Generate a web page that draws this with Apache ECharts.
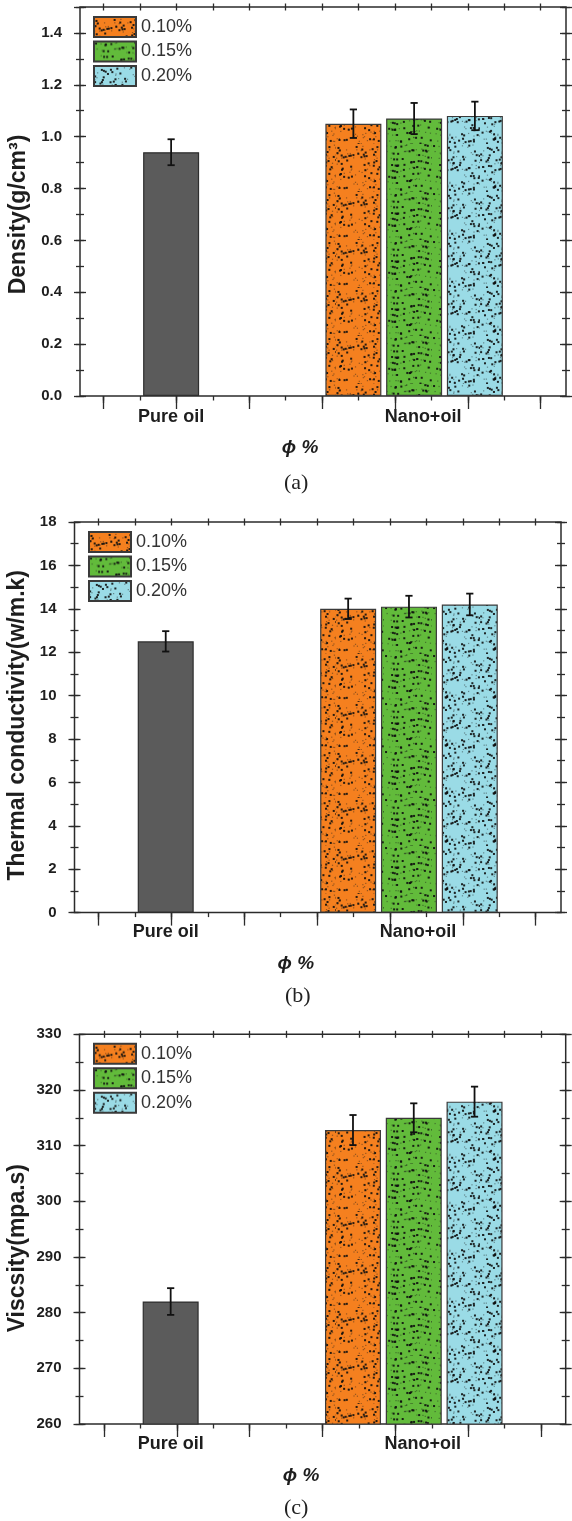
<!DOCTYPE html>
<html>
<head>
<meta charset="utf-8">
<script src="https://cdn.jsdelivr.net/npm/echarts@6/dist/echarts.min.js"></script>
<style>
  body { margin: 0; background: #fff; width: 572px; height: 1521px; position: relative; overflow: hidden; }
  .panel { position: absolute; left: 0; width: 572px; }
</style>
</head>
<body>
<div id="pa" class="panel" style="top:0;height:510px"></div>
<div id="pb" class="panel" style="top:510px;height:510px"></div>
<div id="pc" class="panel" style="top:1020px;height:501px"></div>
<script>
// bar slots along the x axis (Origin places each bar in its own slot)
const slots = ["", "Pure oil", "", "", "", "Nano+oil", "", ""];
const PURE_SLOT = 1;
const NANO_SLOTS = [4, 5, 6];
const concLabels = ["0.10%", "0.15%", "0.20%"];

// (a) density
const densityPure = 0.94;
const densityPureErr = 0.05;
const densityNano = [1.05, 1.07, 1.08];
const densityNanoErr = [0.055, 0.06, 0.055];
const densityAxis = [0, 1.5, 0.2, 0.1]; // min, max, major, minor

// (b) thermal conductivity
const thermalPure = 12.5;
const thermalPureErr = 0.47;
const thermalNano = [14.0, 14.1, 14.2];
const thermalNanoErr = [0.47, 0.5, 0.5];
const thermalAxis = [0, 18, 2, 1];

// (c) viscosity
const viscPure = 282;
const viscPureErr = 2.4;
const viscNano = [312.8, 315.0, 317.9];
const viscNanoErr = [2.7, 2.6, 2.7];
const viscAxis = [260, 330, 10, 5];

const X_TICK_STEPS = 12; // minor tick intervals on the top/bottom axes

const AXIS = "#2b2b2b";
const TEXT = "#1e1e1e";
const FONT = "Liberation Sans, Arial, sans-serif";
const NANO_COLORS = ["#f5801f", "#62bb3b", "#9adbe6"];

// speckled fill like Origin's pattern (deterministic, styling only)
function texture(bg, seed, rows) {
    const c = document.createElement("canvas");
    c.width = 48;
    c.height = 48;
    const ctx = c.getContext("2d");
    ctx.fillStyle = bg;
    ctx.fillRect(0, 0, 48, 48);
    let s = seed;
    const rnd = () => {
        s = (s * 1103515245 + 12345) % 2147483648;
        return s / 2147483648;
    };
    for (let i = 0; i < 120; i++) {
        let x = rnd() * 48;
        let y = rnd() * 48;
        if (rows) y = Math.floor(y / 6) * 6 + 2 * Math.sin(x / 7) + rnd() * 1.2;
        const big = rnd() < 0.5;
        ctx.fillStyle = big ? "rgba(15,15,15,0.9)" : "rgba(30,30,30,0.45)";
        const r = big ? 2 : 1.2;
        ctx.fillRect(x, (y + 48) % 48, r, r);
    }
    return { image: c, repeat: "repeat" };
}
const NANO_FILLS = [
    texture(NANO_COLORS[0], 7, false),
    texture(NANO_COLORS[1], 19, true),
    texture(NANO_COLORS[2], 31, false)
];

function renderErr(params, api) {
    const x = api.value(0);
    const v = api.value(1);
    const e = api.value(2);
    const top = api.coord([x, v + e]);
    const bot = api.coord([x, v - e]);
    const cap = 3.6;
    const style = { stroke: "#111", lineWidth: 1.8 };
    return {
        type: "group",
        children: [
            { type: "line", shape: { x1: top[0], y1: top[1], x2: bot[0], y2: bot[1] }, style },
            { type: "line", shape: { x1: top[0] - cap, y1: top[1], x2: top[0] + cap, y2: top[1] }, style },
            { type: "line", shape: { x1: bot[0] - cap, y1: bot[1], x2: bot[0] + cap, y2: bot[1] }, style }
        ]
    };
}

function makePanel(el, cfg) {
    const chart = echarts.init(el);
    const [yMin, yMax, major, minor] = cfg.axis;
    const g = cfg.layout;

    const yTick = (position, offset, interval, length, extra) =>
        Object.assign(
            {
                type: "value",
                gridIndex: 0,
                position,
                offset,
                min: yMin,
                max: yMax,
                interval,
                axisLine: { show: false },
                splitLine: { show: false },
                axisTick: { show: true, inside: true, length, lineStyle: { color: AXIS, width: 1.3 } },
                axisLabel: { show: false }
            },
            extra
        );

    const xTick = (position, offset, interval, length, inside) => ({
        type: "value",
        gridIndex: 1,
        position,
        offset,
        min: 0,
        max: X_TICK_STEPS,
        interval,
        axisLine: { show: false },
        splitLine: { show: false },
        axisLabel: { show: false },
        axisTick: { show: true, inside, length, lineStyle: { color: AXIS, width: 1.3 } }
    });

    const bar = (name, slot, value, color, border) => ({
        type: "bar",
        name,
        xAxisIndex: 0,
        yAxisIndex: 0,
        barWidth: 56,
        barGap: "-100%",
        data: slots.map((_, i) => (i === slot ? value : "-")),
        itemStyle: { color, borderColor: border, borderWidth: 1.2 },
        emphasis: { disabled: true }
    });

    const errData = [[PURE_SLOT, cfg.pure, cfg.pureErr]].concat(
        NANO_SLOTS.map((slot, i) => [slot, cfg.nano[i], cfg.nanoErr[i]])
    );

    chart.setOption({
        animation: false,
        textStyle: { fontFamily: FONT },
        grid: [
            {
                left: g.left, right: g.right, top: g.top, bottom: g.bottom,
                outerBoundsMode: "none", containLabel: false,
                show: true, borderColor: AXIS, borderWidth: 1.5
            },
            {
                left: g.tickLeft, right: g.tickRight, top: g.top, bottom: g.bottom,
                outerBoundsMode: "none", containLabel: false
            }
        ],
        legend: {
            data: concLabels,
            orient: "vertical",
            left: g.legendLeft,
            top: g.legendTop,
            padding: 0,
            itemWidth: 42,
            itemHeight: 20,
            itemGap: 2.5,
            selectedMode: false,
            icon: "rect",
            textStyle: { fontSize: 18, color: "#333", fontFamily: FONT }
        },
        xAxis: [
            {
                type: "category",
                gridIndex: 0,
                data: slots,
                position: "bottom",
                axisLine: { show: false },
                axisTick: { show: false },
                axisLabel: {
                    interval: 0,
                    margin: g.labelMargin,
                    color: TEXT,
                    fontSize: 18,
                    fontWeight: "bold",
                    formatter: v => (v === "Nano+oil" ? "{n|" + v + "}" : v),
                    rich: { n: { padding: [0, 0, 0, 18], fontSize: 18, fontWeight: "bold", color: TEXT } }
                },
                name: "ϕ %",
                nameLocation: "middle",
                nameGap: g.phiGap,
                nameMoveOverlap: false,
                nameTextStyle: {
                    fontSize: 19, fontWeight: "bold", fontStyle: "italic", color: TEXT,
                    padding: [0, g.phiShift, 0, 0]
                }
            },
            xTick("top", 6, 2, 13, true),
            xTick("top", 3.5, 1, 7, true),
            xTick("bottom", 0, 2, 7, false),
            xTick("bottom", 0, 1, 4.5, false)
        ],
        yAxis: [
            yTick("left", 6, major, 12, {
                axisLabel: {
                    show: true,
                    margin: 12,
                    color: TEXT,
                    fontSize: 15,
                    fontWeight: "bold",
                    formatter: v => {
                        const k = v / major;
                        if (Math.abs(k - Math.round(k)) > 1e-6) return "";
                        return cfg.decimals ? v.toFixed(cfg.decimals) : String(v);
                    }
                },
                name: cfg.yName,
                nameLocation: "middle",
                nameGap: g.yNameGap,
                nameMoveOverlap: false,
                nameTextStyle: {
                    fontSize: 23, fontWeight: "bold", color: TEXT,
                    padding: g.yNamePad
                }
            }),
            yTick("left", 4, minor, 8),
            yTick("right", 6, major, 12),
            yTick("right", 4, minor, 8),
            { type: "value", gridIndex: 1, show: false, min: 0, max: 1 }
        ],
        graphic: [
            {
                type: "text",
                left: g.capX - 14,
                top: g.capY - 12,
                style: { text: cfg.caption, font: "22px Liberation Serif, Times New Roman, serif", fill: "#222" }
            }
        ],
        series: [
            bar("Pure oil", PURE_SLOT, cfg.pure, "#5b5b5b", "#2e2e2e"),
            ...NANO_SLOTS.map((slot, i) => bar(concLabels[i], slot, cfg.nano[i], NANO_FILLS[i], "#3a3a3a")),
            {
                type: "custom",
                xAxisIndex: 0,
                yAxisIndex: 0,
                renderItem: renderErr,
                data: errData,
                z: 10,
                silent: true
            }
        ]
    });
    return chart;
}

makePanel(document.getElementById("pa"), {
    pure: densityPure, pureErr: densityPureErr, nano: densityNano, nanoErr: densityNanoErr,
    axis: densityAxis, decimals: 1, yName: "Density(g/cm³)", caption: "(a)",
    layout: {
        left: 80, right: 6, top: 7, bottom: 114, tickLeft: 103.5, tickRight: 31.3,
        legendLeft: 93, legendTop: 16, labelMargin: 12, phiGap: 42, phiShift: 46,
        yNameGap: 44, yNamePad: [0, 26, 0, 0], capX: 298, capY: 484
    }
});

makePanel(document.getElementById("pb"), {
    pure: thermalPure, pureErr: thermalPureErr, nano: thermalNano, nanoErr: thermalNanoErr,
    axis: thermalAxis, decimals: 0, yName: "Thermal conductivity(w/m.k)", caption: "(b)",
    layout: {
        left: 74.5, right: 11, top: 12, bottom: 107.4, tickLeft: 98.5, tickRight: 36.3,
        legendLeft: 88, legendTop: 531 - 510, labelMargin: 10, phiGap: 42, phiShift: 44,
        yNameGap: 39, yNamePad: [0, 16, 0, 0], capX: 299, capY: 487
    }
});

makePanel(document.getElementById("pc"), {
    pure: viscPure, pureErr: viscPureErr, nano: viscNano, nanoErr: viscNanoErr,
    axis: viscAxis, decimals: 0, yName: "Viscsity(mpa.s)", caption: "(c)",
    layout: {
        left: 79.5, right: 6.3, top: 14.3, bottom: 97, tickLeft: 104, tickRight: 31,
        legendLeft: 93, legendTop: 1042.7 - 1020, labelMargin: 11, phiGap: 42, phiShift: 43,
        yNameGap: 44, yNamePad: [0, 38, 0, 0], capX: 298, capY: 489
    }
});
</script>
</body>
</html>
